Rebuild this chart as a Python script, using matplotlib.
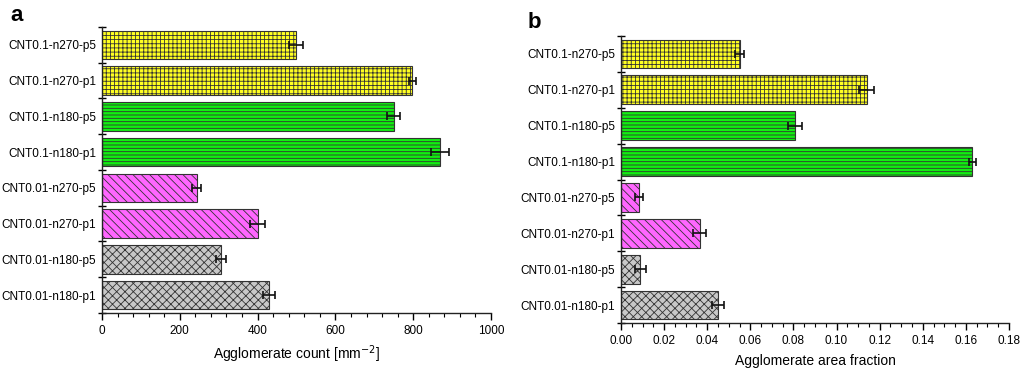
import matplotlib
matplotlib.use("Agg")
import matplotlib.pyplot as plt
from matplotlib.ticker import MultipleLocator, FixedLocator

plt.rcParams['font.family'] = ['Liberation Sans', 'DejaVu Sans']
plt.rcParams['hatch.linewidth'] = 0.6

categories = ["CNT0.1-n270-p5", "CNT0.1-n270-p1", "CNT0.1-n180-p5", "CNT0.1-n180-p1",
              "CNT0.01-n270-p5", "CNT0.01-n270-p1", "CNT0.01-n180-p5", "CNT0.01-n180-p1"]
count_vals = [498, 798, 750, 868, 243, 400, 305, 429]
count_err = [18, 10, 17, 23, 11, 20, 13, 15]
frac_vals = [0.055, 0.114, 0.0808, 0.163, 0.0082, 0.0365, 0.0090, 0.0451]
frac_err = [0.0022, 0.0035, 0.0032, 0.0016, 0.0019, 0.0030, 0.0027, 0.0027]

colors = ['#FFFF22', '#FFFF22', '#11EE11', '#11EE11', '#FF66FF', '#FF66FF', '#C8C8C8', '#C8C8C8']
hatches = ['++++', '++++', '-----', '-----', '\\\\\\\\', '\\\\\\\\', 'xxxx', 'xxxx']

fig = plt.figure(figsize=(10.24, 3.73), dpi=100)
axA = fig.add_axes([0.0996, 0.1609, 0.3799, 0.7667])
axB = fig.add_axes([0.6064, 0.134, 0.379, 0.7695])


def draw(ax, vals, errs, xmax, major, minor, xlabel, fmt):
    n = len(categories)
    ypos = list(range(n))
    for i in range(n):
        ax.barh(ypos[i], vals[i], height=0.8, color=colors[i], edgecolor='#333333',
                hatch=hatches[i], linewidth=0.8, zorder=2)
        ax.errorbar(vals[i], ypos[i], xerr=errs[i], fmt='none', ecolor='#111111',
                    elinewidth=1.2, capsize=3, capthick=1.2, zorder=3)
    ax.set_ylim(n - 0.5, -0.5)
    ax.set_xlim(0, xmax)
    ax.set_yticks(ypos)
    ax.set_yticklabels(categories, fontsize=8.5)
    ax.tick_params(axis='y', which='major', length=0, pad=4)
    ax.yaxis.set_minor_locator(FixedLocator([i - 0.5 for i in range(n + 1)]))
    ax.tick_params(axis='y', which='minor', direction='inout', length=6, width=1.0)
    ax.xaxis.set_major_locator(MultipleLocator(major))
    ax.xaxis.set_minor_locator(MultipleLocator(minor))
    ax.xaxis.set_major_formatter(fmt)
    ax.tick_params(axis='x', which='major', direction='out', length=5, width=1.0, labelsize=8.5)
    ax.tick_params(axis='x', which='minor', direction='out', length=3, width=0.8)
    for s in ['top', 'right']:
        ax.spines[s].set_visible(False)
    for s in ['left', 'bottom']:
        ax.spines[s].set_linewidth(1.0)
        ax.spines[s].set_color('#222222')
    ax.set_xlabel(xlabel, fontsize=10, labelpad=5)


draw(axA, count_vals, count_err, 1000, 200, 40, 'Agglomerate count [mm$^{-2}$]',
     matplotlib.ticker.FormatStrFormatter('%d'))
draw(axB, frac_vals, frac_err, 0.18, 0.02, 0.005, 'Agglomerate area fraction',
     matplotlib.ticker.FormatStrFormatter('%.2f'))

fig.text(0.010, 0.945, 'a', fontsize=16, fontweight='bold')
fig.text(0.515, 0.925, 'b', fontsize=16, fontweight='bold')

fig.savefig('out.png', dpi=100)
